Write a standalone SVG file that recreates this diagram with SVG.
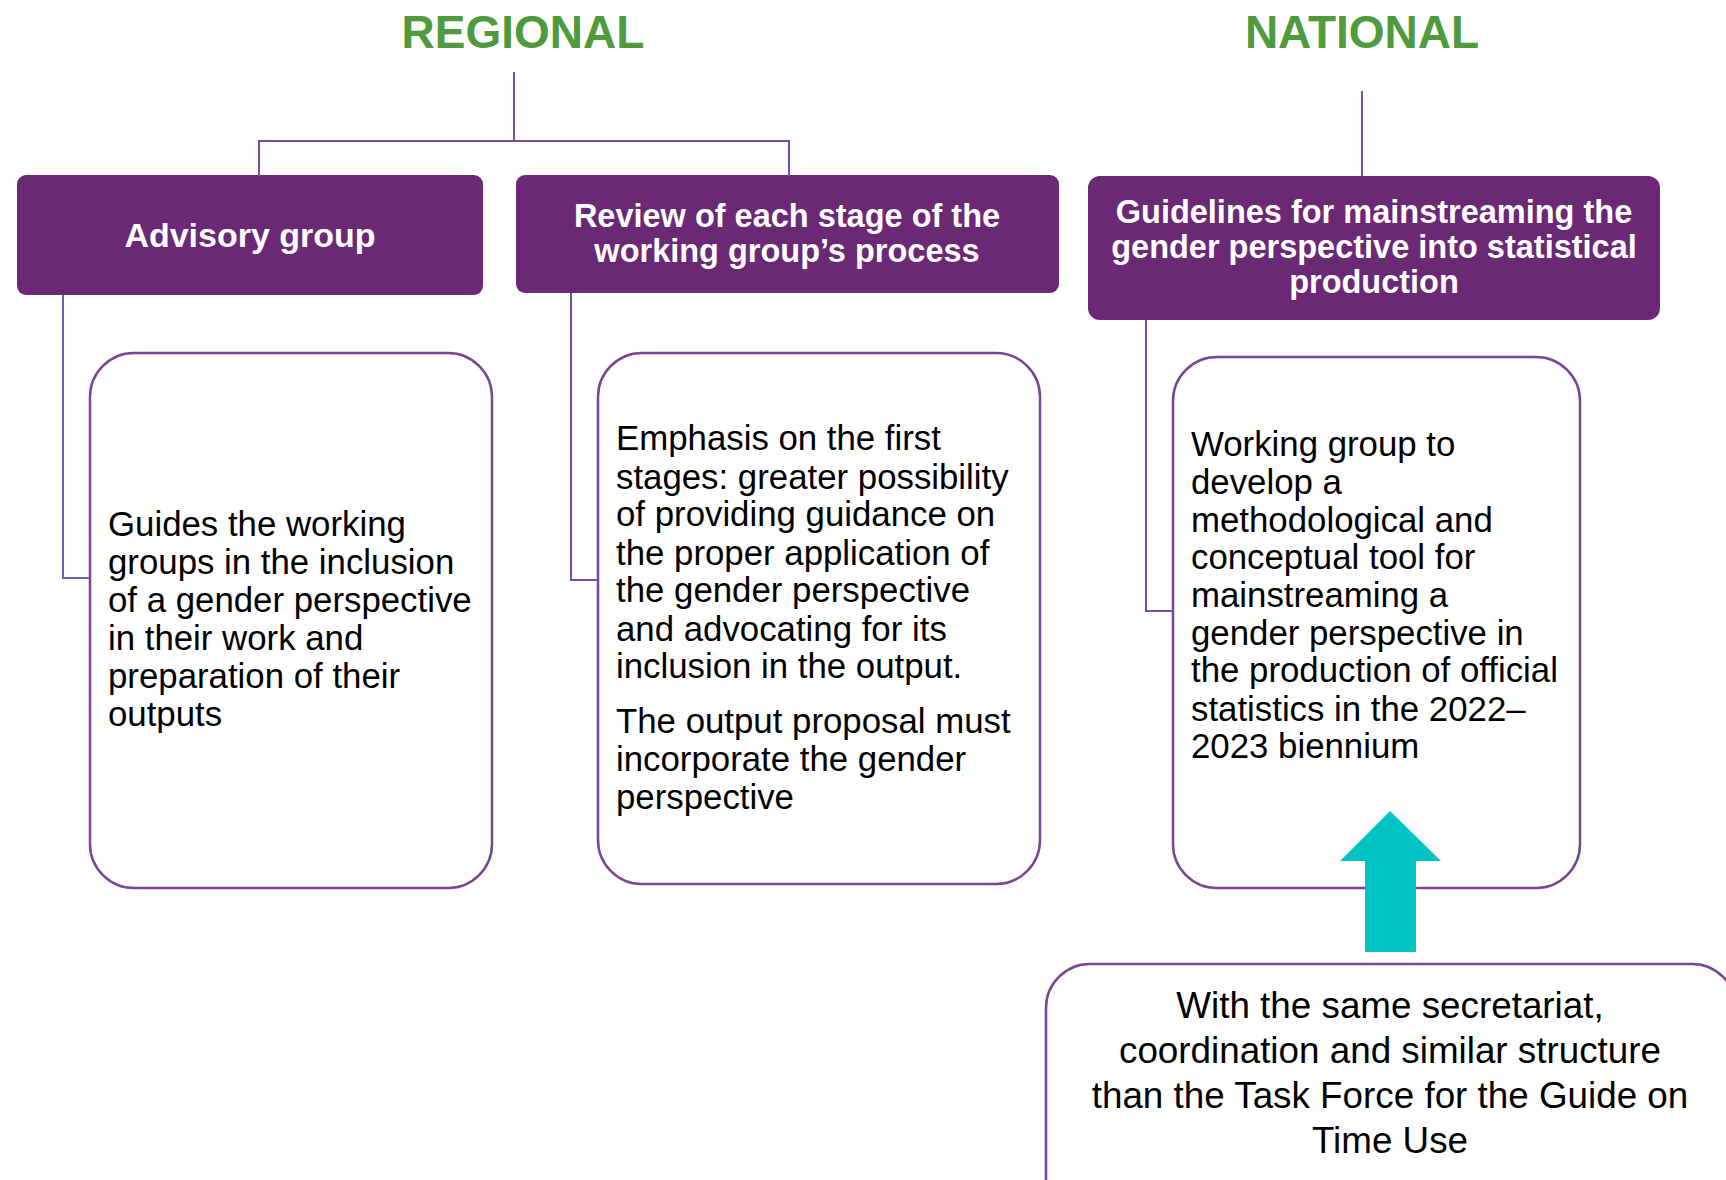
<svg xmlns="http://www.w3.org/2000/svg" width="1726" height="1180" viewBox="0 0 1726 1180">
<style>
.title{font-family:"Liberation Sans",Arial,sans-serif;font-weight:bold;font-size:46px;fill:#4e9a3c;text-anchor:middle}
.hdr{fill:#6a2875}
.ht{font-family:"Liberation Sans",Arial,sans-serif;font-weight:bold;font-size:32.5px;fill:#fff;text-anchor:middle}
.box{fill:#fff;stroke:#7a4595;stroke-width:2.5}
.bt{font-family:"Liberation Sans",Arial,sans-serif;font-size:34.8px;fill:#000}
.ct{font-family:"Liberation Sans",Arial,sans-serif;font-size:36.8px;fill:#000;text-anchor:middle}
.ln{fill:none;stroke:#7f4f9f;stroke-width:2}
</style>
<rect width="1726" height="1180" fill="#fff"/>
<g id="title-regional"><text class="title" x="523" y="48">REGIONAL</text></g>
<g id="title-national"><text class="title" x="1362" y="48">NATIONAL</text></g>
<g id="advisory-group">
<rect class="hdr" x="17" y="175" width="466" height="120" rx="9"/>
<text class="ht" x="250" y="247" style="font-size:34px">Advisory group</text>
</g>
<g id="review-stage">
<rect class="hdr" x="516" y="175" width="543" height="118" rx="9"/>
<text class="ht" x="787" y="227">Review of each stage of the</text>
<text class="ht" x="787" y="262">working group’s process</text>
</g>
<g id="guidelines">
<rect class="hdr" x="1088" y="176" width="572" height="144" rx="12"/>
<text class="ht" x="1374" y="223">Guidelines for mainstreaming the</text>
<text class="ht" x="1374" y="258">gender perspective into statistical</text>
<text class="ht" x="1374" y="293">production</text>
</g>
<g id="advisory-text">
<rect class="box" x="90" y="353" width="402" height="535" rx="44"/>
<text class="bt" x="108" y="536">Guides the working</text>
<text class="bt" x="108" y="574">groups in the inclusion</text>
<text class="bt" x="108" y="612">of a gender perspective</text>
<text class="bt" x="108" y="650">in their work and</text>
<text class="bt" x="108" y="688">preparation of their</text>
<text class="bt" x="108" y="726">outputs</text>
</g>
<g id="review-text">
<rect class="box" x="598" y="353" width="442" height="531" rx="44"/>
<text class="bt" x="616" y="450">Emphasis on the first</text>
<text class="bt" x="616" y="489">stages: greater possibility</text>
<text class="bt" x="616" y="526">of providing guidance on</text>
<text class="bt" x="616" y="565">the proper application of</text>
<text class="bt" x="616" y="602">the gender perspective</text>
<text class="bt" x="616" y="641">and advocating for its</text>
<text class="bt" x="616" y="678">inclusion in the output.</text>
<text class="bt" x="616" y="733">The output proposal must</text>
<text class="bt" x="616" y="771">incorporate the gender</text>
<text class="bt" x="616" y="809">perspective</text>
</g>
<g id="guidelines-text">
<rect class="box" x="1173" y="357" width="407" height="531" rx="44"/>
<text class="bt" x="1191" y="456">Working group to</text>
<text class="bt" x="1191" y="494">develop a</text>
<text class="bt" x="1191" y="532">methodological and</text>
<text class="bt" x="1191" y="569">conceptual tool for</text>
<text class="bt" x="1191" y="607">mainstreaming a</text>
<text class="bt" x="1191" y="645">gender perspective in</text>
<text class="bt" x="1191" y="682">the production of official</text>
<text class="bt" x="1191" y="721">statistics in the 2022–</text>
<text class="bt" x="1191" y="758">2023 biennium</text>
</g>
<g id="secretariat-note">
<rect class="box" x="1046" y="964" width="690" height="260" rx="44"/>
<text class="ct" x="1390" y="1018">With the same secretariat,</text>
<text class="ct" x="1390" y="1063">coordination and similar structure</text>
<text class="ct" x="1390" y="1108">than the Task Force for the Guide on</text>
<text class="ct" x="1390" y="1153">Time Use</text>
</g>
<g id="connectors">
<path class="ln" d="M514 72 V141 M259 176 V141 H789 V176"/>
<path class="ln" d="M1362 91 V176"/>
<path class="ln" d="M63 295 V578 H90" style="stroke:#7060b0"/>
<path class="ln" d="M571 293 V580 H598"/>
<path class="ln" d="M1146 320 V611 H1173"/>
<polygon fill="#00c4c4" points="1390,811 1441,861 1416,861 1416,952 1365,952 1365,861 1340,861"/>
</g>
</svg>
